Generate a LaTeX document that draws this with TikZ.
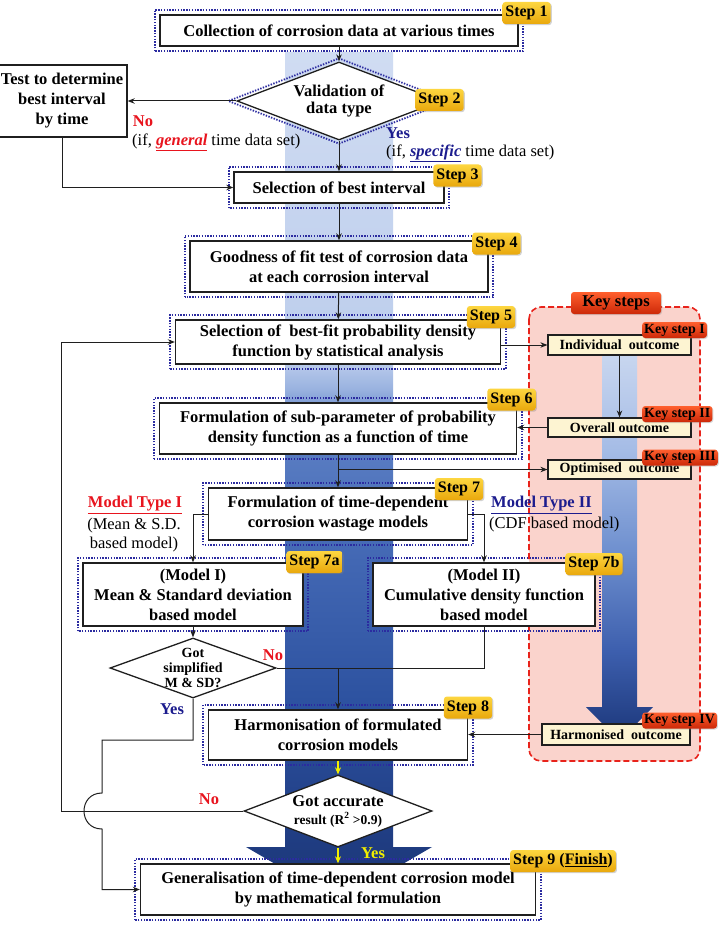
\documentclass[tikz,border=0pt]{standalone}
\usepackage{fontspec}
\setmainfont{Liberation Serif}
\usetikzlibrary{shapes.geometric,arrows.meta,shadows,calc}

\definecolor{dotblue}{HTML}{2B2BA0}
\definecolor{noRed}{HTML}{E8141E}
\definecolor{yesBlue}{HTML}{1C1C8E}
\definecolor{panelPink}{HTML}{FAD3CC}
\definecolor{panelRed}{HTML}{E8231B}
\definecolor{cream}{HTML}{FDF4D2}
\definecolor{goldT}{HTML}{FDD640}
\definecolor{goldB}{HTML}{E9A80C}
\definecolor{keyT}{HTML}{FF5F2E}
\definecolor{keyB}{HTML}{CC2808}
\definecolor{arrYellow}{HTML}{F2EE00}
\definecolor{mb1}{HTML}{1A3575}
\definecolor{mb2}{HTML}{213F86}
\definecolor{mb3}{HTML}{2D52A0}
\definecolor{mb4}{HTML}{4267B3}
\definecolor{mb5}{HTML}{5F82C6}
\definecolor{mb6}{HTML}{98B1DF}
\definecolor{mb7}{HTML}{BCCDEC}
\definecolor{mb8}{HTML}{D0DCF2}
\definecolor{kb1}{HTML}{1B3679}
\definecolor{kb2}{HTML}{3D5FAE}
\definecolor{kb3}{HTML}{6F90CF}
\definecolor{kb4}{HTML}{A5BCE6}
\definecolor{kb5}{HTML}{C8D6EF}

\pgfdeclareverticalshading{mainband}{100bp}{color(0bp)=(mb1); color(25bp)=(mb1); color(29.7bp)=(mb2); color(36.8bp)=(mb3); color(45bp)=(mb4); color(53.3bp)=(mb5); color(55.1bp)=(mb6); color(56.8bp)=(mb7); color(75bp)=(mb8); color(100bp)=(mb8)}
\pgfdeclareverticalshading{keyband}{100bp}{color(0bp)=(kb1); color(25bp)=(kb1); color(36.7bp)=(kb2); color(49.7bp)=(kb3); color(62.7bp)=(kb4); color(75bp)=(kb5); color(100bp)=(kb5)}

\newcommand\fMain{\fontsize{16.5}{20}\selectfont\bfseries}
\newcommand\fReg{\fontsize{16.5}{19}\selectfont}
\newcommand\fSmall{\fontsize{14}{15}\selectfont\bfseries}
\newcommand\fKey{\fontsize{14}{16}\selectfont\bfseries}
\newcommand\fBadge{\fontsize{16}{18}\selectfont\bfseries}

\tikzset{
  box/.style={draw=black!88, line width=1.4pt, fill=white, align=center, font=\fMain, inner sep=0pt},
  kbox/.style={draw=black!88, line width=1.2pt, fill=cream, align=center, font=\fKey, inner sep=0pt, minimum width=143pt},
  diam/.style={draw=black!88, line width=1.3pt, fill=white, shape=diamond, inner sep=0pt},
  dotfr/.style={draw=dotblue, line width=1.8pt, dash pattern=on 1.4pt off 1.4pt},
  conn/.style={draw=black!88, line width=1pt, -{Stealth[length=7pt,width=5.5pt]}},
  plain/.style={draw=black!88, line width=1pt},
  yconn/.style={draw=arrYellow, line width=1.2pt, -{Stealth[length=7pt,width=6pt]}},
  badge/.style={rounded corners=3pt, top color=goldT, bottom color=goldB, font=\fBadge, inner xsep=3pt, inner ysep=0pt, minimum height=22pt, drop shadow={shadow xshift=1.2pt, shadow yshift=-1.2pt, opacity=0.35}},
  kbadge/.style={rounded corners=3pt, top color=keyT, bottom color=keyB, font=\fKey, inner xsep=2pt, inner ysep=0pt, minimum height=16pt, drop shadow={shadow xshift=1pt, shadow yshift=-1pt, opacity=0.3}},
  txt/.style={inner sep=0pt, align=center},
}

\begin{document}
\begin{tikzpicture}[x=1pt,y=-1pt]
\useasboundingbox (0,0) rectangle (724,936);
\fill[white] (0,0) rectangle (724,936);

% key steps panel
\draw[draw=panelRed, fill=panelPink, line width=1.6pt, dash pattern=on 6pt off 3pt, rounded corners=12pt] (529,307) rectangle (700,761);

% bands
\shade[shading=mainband] (285,52) -- (393,52) -- (393,847) -- (432,847) -- (339,901) -- (246,847) -- (285,847) -- cycle;
\shade[shading=keyband] (602,355) -- (637,355) -- (637,707) -- (653,707) -- (619.5,741) -- (586,707) -- (602,707) -- cycle;

% main boxes
\node[box, minimum width=358pt, minimum height=31pt] (s1) at (339,30.5) {Collection of corrosion data at various times};
\node[box, minimum width=130pt, minimum height=72pt] (test) at (62,101) {Test to determine\\best interval\\by time};
\node[draw=dotblue, line width=1.8pt, dash pattern=on 1.4pt off 1.4pt, shape=diamond, inner sep=0pt, minimum width=222pt, minimum height=86pt] (d2f) at (339,101) {};
\node[diam, minimum width=204pt, minimum height=78pt] (d2) at (339,101) {};
\node[txt, font=\fontsize{16.5}{16.5}\selectfont\bfseries] (d2t) at (339,101) {Validation of\\data type};
\node[box, minimum width=210pt, minimum height=31pt] (s3) at (339,187.5) {Selection of best interval};
\node[box, minimum width=298pt, minimum height=51pt] (s4) at (339,266.5) {Goodness of fit test of corrosion data\\at each corrosion interval};
\node[box, minimum width=325pt, minimum height=44pt] (s5) at (338,342) {Selection of~ best-fit probability density\\function by statistical analysis};
\node[box, minimum width=357pt, minimum height=51pt] (s6) at (338,428.5) {Formulation of sub-parameter of probability\\density function as a function of time};
\node[box, minimum width=259pt, minimum height=52pt] (s7) at (338,514) {Formulation of time-dependent\\corrosion wastage models};
\node[box, minimum width=220pt, minimum height=63pt] (s7a) at (193,594.5) {(Model I)\\Mean \& Standard deviation\\based model};
\node[box, minimum width=222pt, minimum height=63pt] (s7b) at (484,594.5) {(Model II)\\Cumulative density function\\based model};
\node[diam, minimum width=166pt, minimum height=60pt] (d7) at (193,668) {};
\node[txt, font=\fSmall] (d7t) at (193,668) {Got\\simplified\\M \& SD?};
\node[box, minimum width=259pt, minimum height=50pt] (s8) at (338,735) {Harmonisation of formulated\\corrosion models};
\node[diam, minimum width=188pt, minimum height=72pt] (d8) at (338,811) {};
\node[txt, font=\fontsize{16.5}{18}\selectfont\bfseries] (d8t) at (338,811) {Got accurate\\{\fontsize{13.5}{18}\selectfont result (R\textsuperscript{2} >0.9)}};
\node[box, minimum width=395pt, minimum height=51pt] (s9) at (338,889.5) {Generalisation of time-dependent corrosion model\\by mathematical formulation};

% key outcome boxes
\node[kbox, minimum height=20pt] (k1) at (619.5,345) {Individual~ outcome};
\node[kbox, minimum height=19pt] (k2) at (619.5,427.5) {Overall outcome};
\node[kbox, minimum height=19pt] (k3) at (619.5,469.5) {Optimised~ outcome};
\node[kbox, minimum width=148pt, minimum height=21pt] (k4) at (616,734.5) {Harmonised~ outcome};

% dotted frames
\foreach \n in {s1,s3,s4,s5,s6,s7,s7a,s7b,s8,s9}
  \draw[dotfr] ([shift={(-4.5,4.5)}]\n.south west) rectangle ([shift={(4.5,-4.5)}]\n.north east);

% connectors
\draw[conn] (s1) -- (d2);
\draw[conn] (d2.west) -- (test.east);
\draw[conn] (d2) -- (s3);
\draw[conn] (test.south) |- (s3.west);
\draw[conn] (s3) -- (s4);
\draw[conn] (s4) -- (s5);
\draw[conn] (s5) -- (s6);
\draw[conn] (s6) -- (s7);
\coordinate (br) at (338,469.5);
\draw[conn] (br) -- (k3.west);
\draw[conn] (s5.east |- k1.west) -- (k1.west);
\draw[conn] (k1) -- (k2);
\draw[conn] (k2.west) -- (k2.west -| s6.east);
\draw[conn] (s7.west) -| (s7a.north);
\draw[conn] (s7.east) -| (s7b.north);
\draw[conn] (s7a) -- (d7);
\draw[plain] (s7b.south) |- (d7.east);
\draw[conn] (s8.north |- d7.east) -- (s8.north);
\draw[conn] (k4.west) -- (k4.west -| s8.east);
\draw[yconn] (s8) -- (d8);
\draw[yconn] (d8) -- (s9);
\coordinate (lp) at (61,811);
\draw[conn] (d8.west) -- (lp) |- (s5.west);
\coordinate (yb) at (102,740);
\draw[conn] (d7.south) |- (yb) -- (102,793) .. controls (78,793) and (78,829) .. (102,829) |- (s9.west);

% labels
\node[txt, font=\fMain, text=noRed] (no1) at (143,121) {No};
\node[txt, font=\fReg, anchor=west] (if1) at (132,142) {(if, \textcolor{noRed}{\underline{\bfseries\itshape general}} time data set)};
\node[txt, font=\fMain, text=yesBlue] (yes1) at (398,133) {Yes};
\node[txt, font=\fReg, anchor=west] (if2) at (386,153) {(if, \textcolor{yesBlue}{\underline{\bfseries\itshape specific}} time data set)};
\node[txt, font=\fMain, text=noRed] (mt1) at (135,505) {\underline{Model Type I}};
\node[txt, font=\fReg] (mt1b) at (134,535) {(Mean \& S.D.\\based model)};
\node[txt, font=\fMain, text=yesBlue, anchor=west] (mt2) at (491,505) {\underline{Model Type II}};
\node[txt, font=\fReg, anchor=west] (mt2b) at (489,525) {(CDF based model)};
\node[txt, font=\fMain, text=noRed] (no2) at (273,655) {No};
\node[txt, font=\fMain, text=yesBlue] (yes2) at (172,709) {Yes};
\node[txt, font=\fMain, text=noRed] (no3) at (209,799) {No};
\node[txt, font=\fMain, text=arrYellow] (yes3) at (373,853) {Yes};

% badges
\node[badge] (b1) at (526.5,13) {Step 1};
\node[badge] (b2) at (439.5,100) {Step 2};
\node[badge] (b3) at (457.5,175.5) {Step 3};
\node[badge] (b4) at (496.5,243.5) {Step 4};
\node[badge] (b5) at (491,317) {Step 5};
\node[badge] (b6) at (511.5,399.5) {Step 6};
\node[badge] (b7) at (459,489) {Step 7};
\node[badge] (b7a) at (314.5,562) {Step 7a};
\node[badge] (b7b) at (594,564) {Step 7b};
\node[badge] (b8) at (468,707.5) {Step 8};
\node[badge] (b9) at (563,861) {Step 9 (\underline{Finish})};

\node[kbadge, font=\fontsize{16.5}{18}\selectfont\bfseries, minimum width=90pt, minimum height=22pt] (kt) at (616,303) {Key steps};
\node[kbadge, anchor=west] (kb1) at (642,330) {Key step I};
\node[kbadge, anchor=west] (kb2) at (642,414) {Key step II};
\node[kbadge, anchor=west] (kb3) at (642,457.5) {Key step III};
\node[kbadge, anchor=west] (kb4) at (642,720.5) {Key step IV};
\end{tikzpicture}
\end{document}
